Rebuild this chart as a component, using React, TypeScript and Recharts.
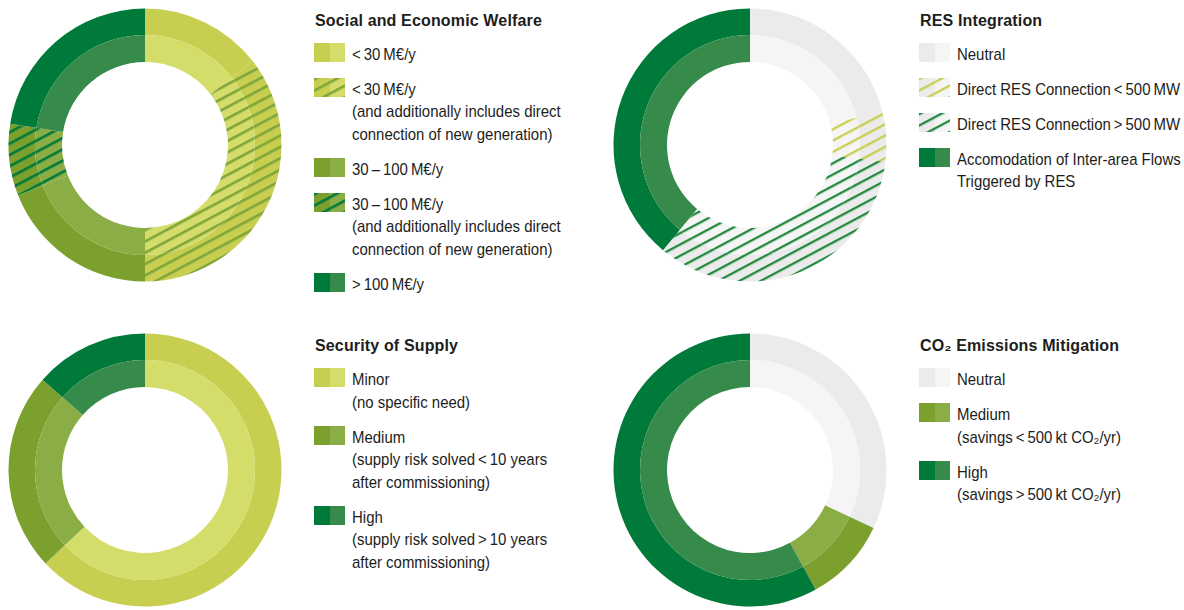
// Four project-assessment donuts (share of projects per indicator class),
// each drawn as two concentric rings: a darker outer band and a lighter inner
// band of the same class colour, with hatched classes as SVG patterns.
import { Cell, Pie, PieChart } from "recharts";

// ---- data: shares in %, clockwise from 12 o'clock ----
const welfareTitle = "Social and Economic Welfare";
const welfareLabels = [
  ["<\u200930\u2009M€/y"],
  ["<\u200930\u2009M€/y", "(and additionally includes direct", "connection of new generation)"],
  ["30\u2009–\u2009100\u2009M€/y"],
  ["30\u2009–\u2009100\u2009M€/y", "(and additionally includes direct", "connection of new generation)"],
  [">\u2009100\u2009M€/y"],
];
const welfareValues = [14.5, 35.5, 19, 8.5, 22.5];

const resTitle = "RES Integration";
const resLabels = [
  ["Neutral"],
  ["Direct RES Connection\u2009<\u2009500\u2009MW"],
  ["Direct RES Connection\u2009>\u2009500\u2009MW"],
  ["Accomodation of Inter-area Flows", "Triggered by RES"],
];
const resValues = [21, 6, 34, 39];

const supplyTitle = "Security of Supply";
const supplyLabels = [
  ["Minor", "(no specific need)"],
  ["Medium", "(supply risk solved\u2009<\u200910 years", "after commissioning)"],
  ["High", "(supply risk solved\u2009>\u200910 years", "after commissioning)"],
];
const supplyValues = [63, 23.5, 13.5];

const co2Title = "CO₂ Emissions Mitigation";
const co2Labels = [
  ["Neutral"],
  ["Medium", "(savings\u2009<\u2009500\u2009kt CO₂/yr)"],
  ["High", "(savings\u2009>\u2009500\u2009kt CO₂/yr)"],
];
const co2Values = [32, 10, 58];

// ---- styles ----
type Fill = { outer: string; inner: string };
const FILL: Record<string, Fill> = {
  yellow: { outer: "#c8cf50", inner: "#d4dc6a" },
  yellowHatch: { outer: "url(#hYellowO)", inner: "url(#hYellowI)" },
  olive: { outer: "#7ca02e", inner: "#8bad45" },
  oliveHatch: { outer: "url(#hOliveO)", inner: "url(#hOliveI)" },
  green: { outer: "#007a3a", inner: "#368b4a" },
  grey: { outer: "#ebebeb", inner: "#f5f5f5" },
  greyYellow: { outer: "url(#hGreyYellowO)", inner: "url(#hGreyYellowI)" },
  greyGreen: { outer: "url(#hGreyGreenO)", inner: "url(#hGreyGreenI)" },
};
const WELFARE_FILLS = [FILL.yellow, FILL.yellowHatch, FILL.olive, FILL.oliveHatch, FILL.green];
const RES_FILLS = [FILL.grey, FILL.greyYellow, FILL.greyGreen, FILL.green];
const SUPPLY_FILLS = [FILL.yellow, FILL.olive, FILL.green];
const CO2_FILLS = [FILL.grey, FILL.olive, FILL.green];

const FONT = '"Liberation Sans", Arial, Helvetica, sans-serif';
const R_OUT = 136.5;
const R_MID = 110;
const R_IN = 83;
const NO_MARGIN = { top: 0, right: 0, bottom: 0, left: 0 };

function Hatch({ id, bg, stripe, w }: { id: string; bg: string; stripe: string; w: number }) {
  return (
    <pattern id={id} patternUnits="userSpaceOnUse" width={10} height={10} patternTransform="rotate(-28)">
      <rect width={10} height={10} fill={bg} />
      <rect width={10} height={w} fill={stripe} />
    </pattern>
  );
}

function Patterns() {
  return (
    <svg width={0} height={0} style={{ position: "absolute" }}>
      <defs>
        <Hatch id="hYellowO" bg="#c8cf50" stripe="#80a53a" w={2.6} />
        <Hatch id="hYellowI" bg="#d4dc6a" stripe="#80a53a" w={2.6} />
        <Hatch id="hOliveO" bg="#7ca02e" stripe="#007a3a" w={2.6} />
        <Hatch id="hOliveI" bg="#8bad45" stripe="#007a3a" w={2.6} />
        <Hatch id="hGreyYellowO" bg="#ebebeb" stripe="#c8cf50" w={2.3} />
        <Hatch id="hGreyYellowI" bg="#f5f5f5" stripe="#c8cf50" w={2.3} />
        <Hatch id="hGreyGreenO" bg="#ebebeb" stripe="#218a3f" w={2.3} />
        <Hatch id="hGreyGreenI" bg="#f5f5f5" stripe="#218a3f" w={2.3} />
      </defs>
    </svg>
  );
}

function Donut({
  values,
  labels,
  fills,
  left,
  top,
}: {
  values: number[];
  labels: string[][];
  fills: Fill[];
  left: number;
  top: number;
}) {
  const data = values.map((v, i) => ({ name: labels[i][0], value: v }));
  return (
    <div style={{ position: "absolute", left, top }}>
      <PieChart width={290} height={290} margin={NO_MARGIN}>
        <Pie
          data={data}
          dataKey="value"
          cx={145}
          cy={145}
          innerRadius={R_MID}
          outerRadius={R_OUT}
          startAngle={90}
          endAngle={-270}
          stroke="none"
          isAnimationActive={false}
        >
          {data.map((_, i) => (
            <Cell key={i} fill={fills[i].outer} stroke="none" />
          ))}
        </Pie>
        <Pie
          data={data}
          dataKey="value"
          cx={145}
          cy={145}
          innerRadius={R_IN}
          outerRadius={R_MID}
          startAngle={90}
          endAngle={-270}
          stroke="none"
          isAnimationActive={false}
        >
          {data.map((_, i) => (
            <Cell key={i} fill={fills[i].inner} stroke="none" />
          ))}
        </Pie>
      </PieChart>
    </div>
  );
}

function Legend({
  title,
  labels,
  fills,
  left,
  top,
}: {
  title: string;
  labels: string[][];
  fills: Fill[];
  left: number;
  top: number;
}) {
  return (
    <div style={{ position: "absolute", left, top, fontFamily: FONT, color: "#1d1d1b", whiteSpace: "nowrap" }}>
      <div
        style={{
          fontWeight: 700,
          fontSize: 16,
          letterSpacing: 0.15,
          lineHeight: "22px",
          marginLeft: 1,
          marginBottom: 11,
        }}
      >
        {title}
      </div>
      {labels.map((lines, i) => (
        <div key={i} style={{ display: "flex", marginBottom: 11.5 }}>
          <svg width={31} height={19} style={{ flex: "none" }}>
            <rect x={0} y={0} width={16} height={19} fill={fills[i].outer} />
            <rect x={16} y={0} width={15} height={19} fill={fills[i].inner} />
          </svg>
          <div
            style={{
              marginLeft: 7,
              fontSize: 17,
              lineHeight: "22.5px",
              paddingTop: 1,
              transform: "scaleX(0.88)",
              transformOrigin: "left top",
            }}
          >
            {lines.map((l, j) => (
              <div key={j}>{l}</div>
            ))}
          </div>
        </div>
      ))}
    </div>
  );
}

export default function App() {
  return (
    <div
      style={{
        position: "absolute",
        left: 0,
        top: 0,
        width: 1184,
        height: 610,
        background: "#fff",
        overflow: "hidden",
      }}
    >
      <Patterns />
      <Donut values={welfareValues} labels={welfareLabels} fills={WELFARE_FILLS} left={-0.5} top={0} />
      <Legend title={welfareTitle} labels={welfareLabels} fills={WELFARE_FILLS} left={314} top={9.5} />
      <Donut values={resValues} labels={resLabels} fills={RES_FILLS} left={604.5} top={0} />
      <Legend title={resTitle} labels={resLabels} fills={RES_FILLS} left={919} top={9.5} />
      <Donut values={supplyValues} labels={supplyLabels} fills={SUPPLY_FILLS} left={-0.5} top={325} />
      <Legend title={supplyTitle} labels={supplyLabels} fills={SUPPLY_FILLS} left={314} top={335} />
      <Donut values={co2Values} labels={co2Labels} fills={CO2_FILLS} left={604.5} top={325} />
      <Legend title={co2Title} labels={co2Labels} fills={CO2_FILLS} left={919} top={335} />
    </div>
  );
}
